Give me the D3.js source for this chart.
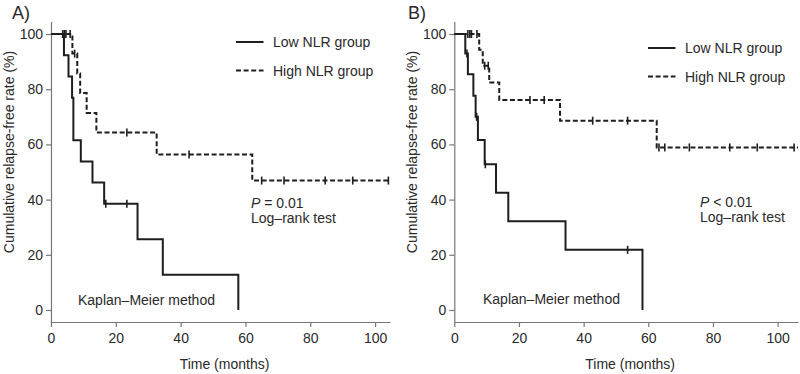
<!DOCTYPE html>
<html lang="en">
<head>
  <meta charset="UTF-8">
  <title>Kaplan-Meier relapse-free rate</title>
  <script src="https://d3js.org/d3.v7.min.js"></script>
  <style>
    body { margin: 0; background: #fff; }
    svg text { font-family: "Liberation Sans", Arial, sans-serif; fill: #2a2a2a; }
    .axis path, .axis line { fill: none; stroke: #777; stroke-width: 1.2; }
    .axis text { font-size: 14px; }
  </style>
</head>
<body>
  <svg id="svg" width="800" height="374"></svg>
  <script>
    // tick labels
    var xTicks = [0, 20, 40, 60, 80, 100]
    var yTicks = [0, 20, 40, 60, 80, 100]

    // panel A: step times (months) and survival (%)
    var timeA_low = [0, 4.0, 5.4, 6.5, 6.9, 9.2, 12.8, 16.4, 26.7, 34.5, 57.8]
    var survA_low = [100, 92.3, 84.6, 76.9, 61.5, 53.8, 46.2, 38.5, 25.6, 12.8, 0]
    var censA_low = [3.6, 16.9, 23.4]
    var timeA_high = [0, 6.6, 8.1, 9.0, 11.0, 14.0, 32.6, 62.1, 104.6]
    var survA_high = [100, 92.9, 85.7, 78.6, 71.4, 64.3, 56.3, 46.9, 46.9]
    var censA_high = [4.1, 4.6, 5.9, 7.3, 23.4, 42.6, 65.0, 71.9, 84.6, 93.1, 104.1]

    // panel B
    var timeB_low = [0, 3.4, 4.2, 5.9, 6.6, 7.3, 9.4, 12.9, 16.7, 34.4, 58.2]
    var survB_low = [100, 92.9, 85.4, 77.6, 70.0, 61.6, 52.8, 42.5, 32.2, 21.8, 0]
    var censB_low = [3.9, 6.9, 9.6, 53.6]
    var timeB_high = [0, 7.7, 8.8, 10.8, 13.9, 32.7, 62.6, 106.3]
    var survB_high = [100, 94.3, 88.5, 82.4, 76.1, 68.6, 58.9, 58.9]
    var censB_high = [4.2, 4.8, 5.3, 7.0, 9.4, 10.5, 23.4, 27.8, 42.8, 53.6, 63.3, 65.1, 72.7, 85.2, 93.7, 105.1]

    var panels = [
      { label: 'A)', lx: 12, x0: 51, x1: 390, xMax: 104.6,
        low: [timeA_low, survA_low, censA_low], high: [timeA_high, survA_high, censA_high],
        legX: 236, legY: 42, pX: 251, pY: 208, pText: ' = 0.01', kmX: 78, kmY: 305 },
      { label: 'B)', lx: 408, x0: 454.3, x1: 798, xMax: 106.3,
        low: [timeB_low, survB_low, censB_low], high: [timeB_high, survB_high, censB_high],
        legX: 648, legY: 48, pX: 700, pY: 207, pText: ' < 0.01', kmX: 483, kmY: 304 }
    ]

    var svg = d3.select('#svg')

    // survival value at time t for a step curve
    function survAt(times, surv, t) {
      var s = surv[0]
      for (var i = 0; i < times.length; i++) {
        if (times[i] <= t) s = surv[i]
      }
      return s
    }

    panels.forEach(function (p) {
      var x = d3.scaleLinear().domain([0, p.xMax]).range([p.x0, p.x1])
      var y = d3.scaleLinear().domain([-4.35, 104.5]).range([322, 21.6])
      var g = svg.append('g')

      g.append('g')
        .attr('class', 'axis')
        .attr('transform', 'translate(0,322)')
        .call(d3.axisBottom(x).tickValues(xTicks).tickSize(5).tickSizeOuter(0).tickPadding(6))
      g.append('g')
        .attr('class', 'axis')
        .attr('transform', 'translate(' + p.x0 + ',0)')
        .call(d3.axisLeft(y).tickValues(yTicks).tickSize(5).tickSizeOuter(0).tickPadding(3))

      var line = d3.line()
        .x(function (d) { return x(d[0]) })
        .y(function (d) { return y(d[1]) })
        .curve(d3.curveStepAfter)

      function drawCurve(c, dash) {
        var pts = c[0].map(function (t, i) { return [t, c[1][i]] })
        g.append('path')
          .attr('d', line(pts))
          .attr('fill', 'none')
          .attr('stroke', '#1e1e1e')
          .attr('stroke-width', 2)
          .attr('stroke-dasharray', dash)
        g.selectAll(null)
          .data(c[2])
          .enter()
          .append('line')
          .attr('x1', function (d) { return x(d) })
          .attr('x2', function (d) { return x(d) })
          .attr('y1', function (d) { return y(survAt(c[0], c[1], d)) - 4 })
          .attr('y2', function (d) { return y(survAt(c[0], c[1], d)) + 4 })
          .attr('stroke', '#1e1e1e')
          .attr('stroke-width', 1.6)
      }
      drawCurve(p.high, '5,2.6')
      drawCurve(p.low, null)

      // legend
      var names = ['Low NLR group', 'High NLR group']
      names.forEach(function (n, i) {
        var ly = p.legY + i * 28.5
        g.append('line')
          .attr('x1', p.legX).attr('x2', p.legX + 27.5)
          .attr('y1', ly).attr('y2', ly)
          .attr('stroke', '#1e1e1e')
          .attr('stroke-width', 2)
          .attr('stroke-dasharray', i === 1 ? '5,2.6' : null)
        g.append('text')
          .attr('x', p.legX + 37)
          .attr('y', ly + 5)
          .attr('font-size', 14)
          .text(n)
      })

      var pt = g.append('text').attr('x', p.pX).attr('y', p.pY).attr('font-size', 14)
      pt.append('tspan').attr('font-style', 'italic').text('P')
      pt.append('tspan').text(p.pText)
      g.append('text').attr('x', p.pX).attr('y', p.pY + 15).attr('font-size', 14).text('Log\u2013rank test')

      g.append('text').attr('x', p.kmX).attr('y', p.kmY).attr('font-size', 14).text('Kaplan\u2013Meier method')

      g.append('text')
        .attr('x', (p.x0 + p.x1) / 2 + 4)
        .attr('y', 369)
        .attr('text-anchor', 'middle')
        .attr('font-size', 14)
        .text('Time (months)')
      g.append('text')
        .attr('transform', 'translate(' + (p.x0 - 37) + ',152) rotate(-90)')
        .attr('text-anchor', 'middle')
        .attr('font-size', 14)
        .text('Cumulative relapse-free rate (%)')

      svg.append('text')
        .attr('x', p.lx)
        .attr('y', 19)
        .attr('font-size', 18)
        .text(p.label)
    })
  </script>
</body>
</html>
